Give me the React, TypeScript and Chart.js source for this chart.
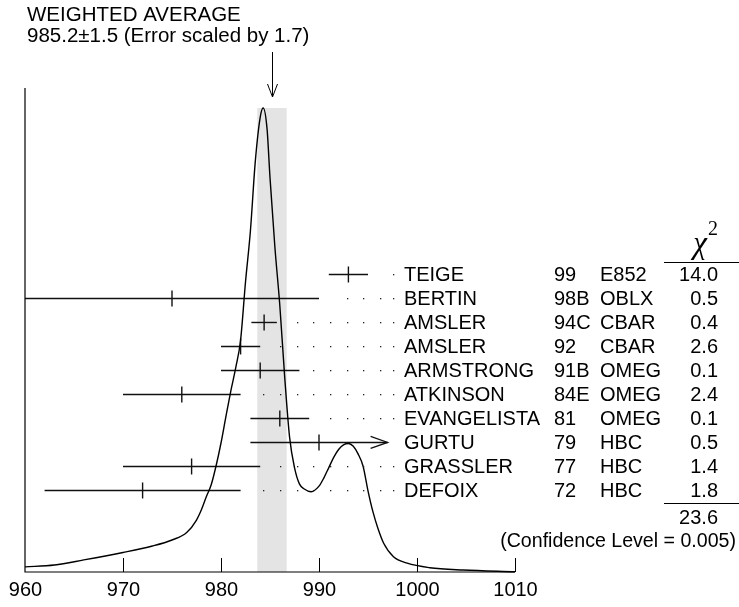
import React, { useEffect, useRef } from "react";
import { Chart, registerables } from "chart.js";

Chart.register(...registerables);

// ---------- data ----------
const X_MIN = 960;
const X_MAX = 1010;
const X_TICKS = [960, 970, 980, 990, 1000, 1010];

const AVG = 985.2;
const AVG_ERR = 1.5;
const ERR_SCALE = 1.7;

const AUTHORS = ["TEIGE", "BERTIN", "AMSLER", "AMSLER", "ARMSTRONG", "ATKINSON", "EVANGELISTA", "GURTU", "GRASSLER", "DEFOIX"];
const YEARS = ["99", "98B", "94C", "92", "91B", "84E", "81", "79", "77", "72"];
const EXPTS = ["E852", "OBLX", "CBAR", "CBAR", "OMEG", "OMEG", "OMEG", "HBC", "HBC", "HBC"];
const VALUES = [993, 975, 984.4, 982, 984, 976, 986, 990, 977, 972];
const ERRORS = [2, 15, 1.3, 2, 4, 6, 3, 7, 7, 10];
const ARROW_RIGHT = [false, false, false, false, false, false, false, true, false, false];
const CHI2 = ["14.0", "0.5", "0.4", "2.6", "0.1", "2.4", "0.1", "0.5", "1.4", "1.8"];
const CHI2_TOTAL = "23.6";
const CONF_LEVEL = "0.005";

const CURVE_X = [960, 963, 966, 970, 973, 975, 976.5, 977.5, 978, 978.5, 979, 979.5, 980, 980.5, 981, 981.5, 982, 982.5, 983, 983.5, 984, 984.3, 984.7, 985, 985.5, 986, 986.5, 987, 987.5, 988, 988.5, 989.2, 990, 990.5, 991, 991.5, 992, 992.5, 993, 993.5, 994, 994.5, 995, 995.5, 996, 996.6, 997.6, 999, 1001.3, 1004.7, 1010];
const CURVE_Y = [0.011, 0.015, 0.026, 0.042, 0.056, 0.069, 0.085, 0.112, 0.134, 0.162, 0.188, 0.229, 0.278, 0.335, 0.39, 0.44, 0.5, 0.625, 0.735, 0.885, 0.98, 1.0, 0.955, 0.85, 0.7, 0.575, 0.42, 0.29, 0.225, 0.19, 0.179, 0.173, 0.185, 0.203, 0.225, 0.247, 0.264, 0.274, 0.277, 0.271, 0.254, 0.228, 0.175, 0.13, 0.095, 0.062, 0.033, 0.019, 0.0093, 0.0043, 0.0006];

// ---------- styles ----------
const SANS = '"Liberation Sans", Arial, Helvetica, sans-serif';
const SERIF = '"Liberation Serif", "Times New Roman", serif';
const FONT_TABLE = `20px ${SANS}`;
const INK = "#000";
const BAR_INK = "#111";

const ideogramPlugin = {
  id: "ideogram",
  beforeDatasetsDraw(chart: any) {
    const { ctx, scales } = chart;
    const x = scales.x, y = scales.y;
    const l = x.getPixelForValue(AVG - AVG_ERR);
    const r = x.getPixelForValue(AVG + AVG_ERR);
    const top = y.getPixelForValue(Math.max(...CURVE_Y));
    const bot = y.getPixelForValue(0);
    ctx.save();
    ctx.fillStyle = "#e4e4e4";
    ctx.fillRect(l, top, r - l, bot - top);
    ctx.restore();
  },
  afterDatasetsDraw(chart: any) {
    const { ctx, scales } = chart;
    const x = scales.x, yr = scales.yRow;
    ctx.save();
    // leader dots
    ctx.fillStyle = "#222";
    const dotVals: number[] = [];
    for (let k = 0; k < 8; k++) dotVals.push(984.32 + 1.7 * k);
    dotVals.push(997.58);
    VALUES.forEach((v, i) => {
      if (ARROW_RIGHT[i]) return;
      const end = v + ERRORS[i];
      const py = Math.round(yr.getPixelForValue(i));
      dotVals.forEach((d) => {
        if (d > end + 1.25) {
          const px = Math.round(x.getPixelForValue(d));
          ctx.fillRect(px, py, 1.3, 1.3);
        }
      });
    });
    // arrowheads for bars extending right
    ctx.strokeStyle = BAR_INK;
    ctx.lineWidth = 1.3;
    VALUES.forEach((v, i) => {
      if (!ARROW_RIGHT[i]) return;
      const px = x.getPixelForValue(v + ERRORS[i]);
      const py = yr.getPixelForValue(i);
      ctx.beginPath();
      ctx.moveTo(px - 17, py - 6);
      ctx.lineTo(px, py);
      ctx.lineTo(px - 17, py + 6);
      ctx.stroke();
    });
    ctx.restore();
  },
  afterDraw(chart: any) {
    const { ctx, scales, chartArea } = chart;
    const x = scales.x, y = scales.y, yr = scales.yRow;
    const bottom = y.getPixelForValue(0);
    ctx.save();
    // axes
    ctx.strokeStyle = INK;
    ctx.lineWidth = 1.2;
    ctx.beginPath();
    ctx.moveTo(chartArea.left, chartArea.top);
    ctx.lineTo(chartArea.left, bottom);
    ctx.lineTo(x.getPixelForValue(X_MAX), bottom);
    ctx.stroke();
    // ticks (inward) and labels
    ctx.lineWidth = 1;
    ctx.fillStyle = INK;
    ctx.font = FONT_TABLE;
    ctx.textAlign = "center";
    ctx.textBaseline = "alphabetic";
    X_TICKS.forEach((t, i) => {
      const px = Math.round(x.getPixelForValue(t)) + 0.5;
      if (i > 0) {
        ctx.beginPath();
        ctx.moveTo(px, bottom);
        ctx.lineTo(px, bottom - 14);
        ctx.stroke();
      }
      ctx.fillText(String(t), px, bottom + 24);
    });
    // weighted average arrow
    const ax = Math.round(x.getPixelForValue(AVG)) + 0.5;
    ctx.beginPath();
    ctx.moveTo(ax, 52);
    ctx.lineTo(ax, 97);
    ctx.moveTo(ax - 5, 84);
    ctx.lineTo(ax, 97);
    ctx.lineTo(ax + 5, 84);
    ctx.stroke();
    // header text
    ctx.textAlign = "left";
    ctx.font = `20.5px ${SANS}`;
    ctx.fillText("WEIGHTED AVERAGE", 27, 21);
    ctx.fillText(`${AVG.toFixed(1)}\u00b1${AVG_ERR.toFixed(1)} (Error scaled by ${ERR_SCALE.toFixed(1)})`, 27, 42);
    // rows
    ctx.font = FONT_TABLE;
    AUTHORS.forEach((a, i) => {
      const py = yr.getPixelForValue(i) + 7;
      ctx.textAlign = "left";
      ctx.fillText(a, 404, py);
      ctx.fillText(YEARS[i], 554, py);
      ctx.fillText(EXPTS[i], 600, py);
      ctx.textAlign = "right";
      ctx.fillText(CHI2[i], 718, py);
    });
    // chi2 header
    ctx.textAlign = "center";
    ctx.font = `italic 31px ${SERIF}`;
    ctx.fillText("\u03c7", 700, 253);
    ctx.textAlign = "left";
    ctx.font = `20px ${SERIF}`;
    ctx.fillText("2", 708, 235);
    // rules
    ctx.beginPath();
    ctx.moveTo(664, 262.5);
    ctx.lineTo(739, 262.5);
    ctx.moveTo(664, 503.5);
    ctx.lineTo(739, 503.5);
    ctx.stroke();
    // totals
    ctx.font = FONT_TABLE;
    ctx.textAlign = "right";
    ctx.fillText(CHI2_TOTAL, 718, 524);
    ctx.font = `19.6px ${SANS}`;
    ctx.fillText(`(Confidence Level = ${CONF_LEVEL})`, 736, 547);
    ctx.restore();
  },
};

export default function App() {
  const ref = useRef<HTMLCanvasElement>(null);
  useEffect(() => {
    const rowMin = -7.77;
    const rowMax = rowMin + 484 / 24;
    const datasets: any[] = [
      {
        data: CURVE_X.map((v, i) => ({ x: v, y: CURVE_Y[i] })),
        showLine: true,
        borderColor: INK,
        borderWidth: 1.4,
        pointRadius: 0,
        cubicInterpolationMode: "monotone",
        yAxisID: "y",
        clip: false,
      },
    ];
    VALUES.forEach((v, i) => {
      datasets.push({
        data: [
          { x: v - ERRORS[i], y: i },
          { x: v + ERRORS[i], y: i },
        ],
        showLine: true,
        borderColor: BAR_INK,
        borderWidth: 1.4,
        pointRadius: 0,
        yAxisID: "yRow",
      });
    });
    datasets.push({
      data: VALUES.map((v, i) => ({ x: v, y: i })),
      showLine: false,
      pointStyle: "line",
      rotation: 90,
      pointRadius: 8,
      borderColor: BAR_INK,
      borderWidth: 1.4,
      yAxisID: "yRow",
    });

    const chart = new Chart(ref.current!, {
      type: "scatter",
      data: { datasets },
      options: {
        animation: false,
        responsive: false,
        devicePixelRatio: 1,
        events: [],
        layout: { padding: { left: 25, right: 224, top: 88, bottom: 35 } },
        plugins: { legend: { display: false }, tooltip: { enabled: false } },
        scales: {
          x: { type: "linear", min: X_MIN, max: X_MAX, display: false },
          y: { type: "linear", min: 0, max: 484 / 464, display: false },
          yRow: { type: "linear", min: rowMin, max: rowMax, reverse: true, display: false },
        },
      },
      plugins: [ideogramPlugin],
    } as any);
    return () => chart.destroy();
  }, []);
  return (
    <div style={{ position: "fixed", left: 0, top: 0, width: 739, height: 607, background: "#fff" }}>
      <canvas ref={ref} width={739} height={607} style={{ display: "block", width: 739, height: 607 }} />
    </div>
  );
}
